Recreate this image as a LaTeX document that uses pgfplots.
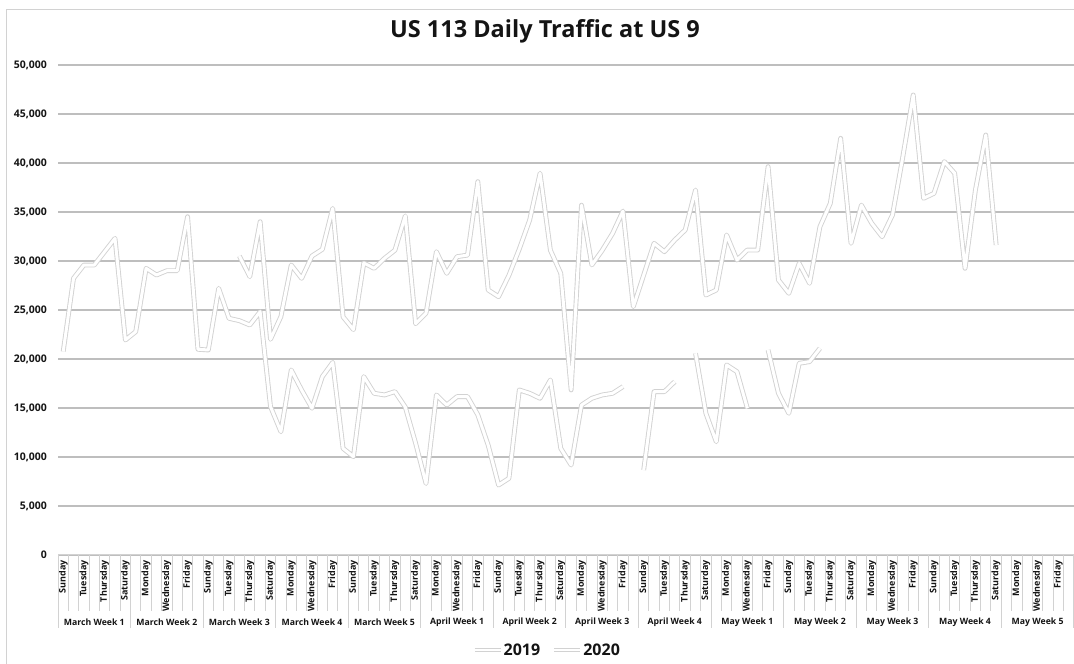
\documentclass[border=0pt]{standalone}
\usepackage{pgfplots}
\pgfplotsset{compat=1.18}
\usepackage{pgfplotstable}
\usepackage{fontspec}
\setmainfont{Open Sans}
\definecolor{gridc}{RGB}{190,190,190}
\definecolor{linec}{RGB}{210,210,210}
\definecolor{sepc}{RGB}{210,210,210}
\definecolor{txt}{RGB}{20,20,20}

% 2019
\pgfplotstableread{
x y
17 30510
18 28400
19 34010
20 22010
21 24320
22 29590
23 28230
24 30510
25 31190
26 35370
27 24300
28 23000
29 29800
30 29250
31 30270
32 31100
33 34600
34 23600
35 24660
36 30950
37 28740
38 30440
39 30600
40 38100
41 27040
42 26360
43 28540
44 31220
45 34180
46 38950
47 31100
48 28740
49 16840
50 35700
51 29600
52 31090
53 32820
54 35100
55 25340
56 28570
57 31800
58 30950
59 32140
60 33160
61 37240
62 26530
63 27040
64 32650
65 30100
66 31120
67 31120
68 39630
69 28060
70 26700
71 29760
72 27720
73 33500
74 35880
75 42520
76 31800
77 35700
78 33840
79 32480
80 34700
81 40650
82 46940
83 36400
84 36900
85 40140
86 38950
87 29250
88 37240
89 42860
90 31630
}\dataB

% 2020
\pgfplotstableread{
x y
0 20750
1 28230
2 29590
3 29590
4 30950
5 32310
6 21940
7 22790
8 29250
9 28570
10 29010
11 29010
12 34520
13 20990
14 20920
15 27210
16 24150
17 23910
18 23470
19 24830
20 15140
21 12580
22 18880
23 16840
24 14970
25 18200
26 19650
27 10880
28 10030
29 18200
30 16500
31 16330
32 16670
33 15100
34 11400
35 7300
36 16330
37 15300
38 16160
39 16160
40 14300
41 11200
42 7140
43 7820
44 16840
45 16500
46 15990
47 17860
48 10880
49 9180
50 15300
51 15990
52 16330
53 16500
54 17180
55 nan
56 8670
57 16670
58 16670
59 17690
60 nan
61 20580
62 14460
63 11560
64 19390
65 18700
66 14970
67 nan
68 20920
69 16500
70 14460
71 19560
72 19730
73 21090
}\dataA

\begin{document}
\begin{tikzpicture}[x=1bp,y=1bp,
  wk/.style={font=\fontsize{8.7bp}{10bp}\selectfont\bfseries, text=txt, inner sep=0pt, yshift=-67bp}]
\useasboundingbox (0,0) rectangle (1074,664);
\draw[sepc, line width=1bp] (6.5,-10) -- (6.5,654) -- (1090,654);
\node[font=\fontsize{23.5bp}{28bp}\selectfont\bfseries, text=txt, anchor=base] at (545,626) {US 113 Daily Traffic at US 9};
\begin{axis}[
  at={(58bp,109bp)}, anchor=south west,
  scale only axis, width=1016bp, height=490bp,
  xmin=-0.5, xmax=97.5, ymin=0, ymax=50000,
  axis line style={draw=none},
  clip=false,
  ytick={0,5000,...,50000},
  ymajorgrids, grid style={draw=gridc, line width=1.4bp},
  major tick length=0pt,
  xtick={0,2,...,96},
  xticklabels={Sunday,Tuesday,Thursday,Saturday,Monday,Wednesday,Friday,
    Sunday,Tuesday,Thursday,Saturday,Monday,Wednesday,Friday,
    Sunday,Tuesday,Thursday,Saturday,Monday,Wednesday,Friday,
    Sunday,Tuesday,Thursday,Saturday,Monday,Wednesday,Friday,
    Sunday,Tuesday,Thursday,Saturday,Monday,Wednesday,Friday,
    Sunday,Tuesday,Thursday,Saturday,Monday,Wednesday,Friday,
    Sunday,Tuesday,Thursday,Saturday,Monday,Wednesday,Friday},
  xticklabel style={rotate=90, anchor=east, inner sep=0pt, font=\fontsize{9bp}{10bp}\selectfont\bfseries, text=txt},
  xticklabel shift=5bp,
  yticklabel style={anchor=east, inner sep=0pt, font=\fontsize{10.5bp}{12bp}\selectfont\bfseries, text=txt},
  yticklabel shift=11bp,
  /pgf/number format/1000 sep={,},
  /pgf/number format/assume math mode=true,
  scaled y ticks=false,
  unbounded coords=jump,
  legend columns=2,
  legend style={at={(0.481,-0.194)}, anchor=center, draw=none, fill=none,
    font=\fontsize{16bp}{18bp}\selectfont\bfseries, text=txt,
    inner sep=0pt, nodes={inner sep=1bp},
    /tikz/every even column/.append style={column sep=11bp}},
  legend image code/.code={
    \draw[linec, line width=4.2bp] (0bp,0bp) -- (26bp,0bp);
    \draw[white, line width=2.6bp] (0bp,0bp) -- (26bp,0bp);
  },
]
\draw[sepc, line width=1bp] (axis cs:-0.5,0) -- (axis cs:97.5,0);
\pgfplotsinvokeforeach{-0.5,0.5,...,97.5}{\draw[sepc, line width=1bp] (axis cs:#1,0) -- ++(0bp,-56bp);}
\pgfplotsinvokeforeach{-0.5,6.5,...,97.5}{\draw[sepc, line width=1bp] (axis cs:#1,0) -- ++(0bp,-73bp);}

\addplot[linec, line width=4.8bp, line join=round, forget plot] table {\dataB};
\addplot[white, line width=3bp, line join=round] table {\dataB};
\addlegendentry{2019}
\addplot[linec, line width=4.8bp, line join=round, forget plot] table {\dataA};
\addplot[white, line width=3bp, line join=round] table {\dataA};
\addlegendentry{2020}

\node[wk] at (axis cs:3,0) {March Week 1};
\node[wk] at (axis cs:10,0) {March Week 2};
\node[wk] at (axis cs:17,0) {March Week 3};
\node[wk] at (axis cs:24,0) {March Week 4};
\node[wk] at (axis cs:31,0) {March Week 5};
\node[wk] at (axis cs:38,0) {April Week 1};
\node[wk] at (axis cs:45,0) {April Week 2};
\node[wk] at (axis cs:52,0) {April Week 3};
\node[wk] at (axis cs:59,0) {April Week 4};
\node[wk] at (axis cs:66,0) {May Week 1};
\node[wk] at (axis cs:73,0) {May Week 2};
\node[wk] at (axis cs:80,0) {May Week 3};
\node[wk] at (axis cs:87,0) {May Week 4};
\node[wk] at (axis cs:94,0) {May Week 5};
\end{axis}
\end{tikzpicture}
\end{document}
